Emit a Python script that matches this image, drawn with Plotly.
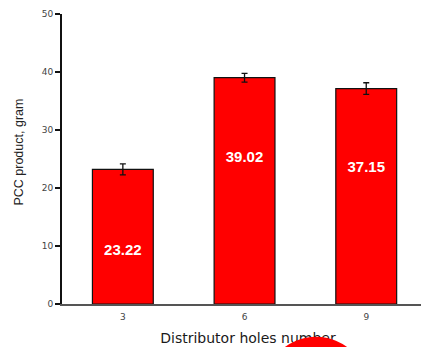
import plotly.graph_objects as go

# Distributor holes number vs. PCC product mass
holes = ["3", "6", "9"]
pcc_mass = [23.22, 39.02, 37.15]
pcc_err = [0.95, 0.75, 1.0]
label_y = [9.1, 25.2, 23.4]          # height of the value labels inside the bars
y_ticks = [0, 10, 20, 30, 40, 50]

x_idx = list(range(len(holes)))

W, H = 421, 347
TOP, LEFT, AXIS_Y = 14, 62, 304       # pixel rows/cols of the plot frame
split = (H - AXIS_Y) / (H - TOP)      # share of the plot height below the x axis

fig = go.Figure()

fig.add_trace(go.Bar(
    x=x_idx, y=pcc_mass, width=0.5,
    marker=dict(color="#FF0000", line=dict(color="#111111", width=1.2)),
    error_y=dict(type="data", array=pcc_err, visible=True,
                 color="#111111", thickness=1.3, width=3),
    showlegend=False, hoverinfo="skip",
))

# value labels inside the bars
fig.add_trace(go.Scatter(
    x=x_idx, y=label_y, mode="text",
    text=[f"{v:.2f}" for v in pcc_mass],
    textposition="middle center",
    textfont=dict(family="Liberation Sans", size=15, color="#FFFFFF", weight="bold"),
    showlegend=False, hoverinfo="skip",
))

# x-axis caption on a strip below the axis, so the red disc can sit over it
fig.add_trace(go.Scatter(
    x=[248], y=[339], mode="text", xaxis="x2", yaxis="y2",
    text=["Distributor holes number"],
    textposition="middle center",
    textfont=dict(family="DejaVu Sans", size=14, color="#1a1a1a"),
    showlegend=False, hoverinfo="skip",
))

hidden = dict(visible=False, showgrid=False, zeroline=False, fixedrange=True,
              automargin=False)

fig.update_layout(
    template="none",
    width=W, height=H,
    margin=dict(l=LEFT, r=0, t=TOP, b=0, autoexpand=False),
    paper_bgcolor="white", plot_bgcolor="white",
    xaxis=dict(
        type="linear", range=[-0.5, 2.45], automargin=False,
        tickvals=x_idx, ticktext=holes,
        ticks="outside", ticklen=3, tickcolor="rgba(0,0,0,0)",
        tickfont=dict(family="DejaVu Sans", size=9, color="#444444"),
        showgrid=False, zeroline=False,
        showline=True, linecolor="#555555", linewidth=2,
    ),
    yaxis=dict(
        domain=[split, 1], automargin=False,
        range=[0, 50], tickvals=y_ticks,
        ticks="outside", ticklen=5, tickwidth=1.5, tickcolor="#111111",
        tickfont=dict(family="DejaVu Sans", size=9, color="#444444"),
        showgrid=False, zeroline=False,
        showline=True, linecolor="#111111", linewidth=2,
    ),
    xaxis2=dict(hidden, range=[LEFT, W], anchor="y2"),
    yaxis2=dict(hidden, range=[H, AXIS_Y], domain=[0, split], anchor="x2"),
    annotations=[dict(
        text="PCC product, gram", textangle=-90,
        xref="paper", yref="paper", x=-0.121, y=(H - 152) / (H - TOP),
        xanchor="center", yanchor="middle", showarrow=False,
        font=dict(family="Liberation Sans", size=12.5, color="#222222"),
    )],
    shapes=[dict(
        type="circle", xref="paper", yref="paper", layer="above",
        x0=(316 - 52 - LEFT) / (W - LEFT), x1=(316 + 52 - LEFT) / (W - LEFT),
        y0=(H - 440.5) / (H - TOP), y1=(H - 336.7) / (H - TOP),
        fillcolor="#FF0000", line=dict(width=0),
    )],
)

fig.write_html("out.html")
